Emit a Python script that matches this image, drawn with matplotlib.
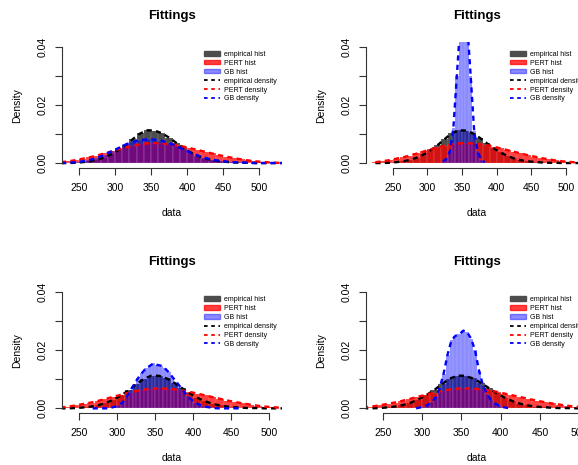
import numpy as np
import matplotlib
matplotlib.use("Agg")
import matplotlib.pyplot as plt
from matplotlib.patches import Patch
from matplotlib.lines import Line2D

plt.rcParams['font.family'] = ['Liberation Sans', 'DejaVu Sans']

# histogram densities, 10-unit bins starting at 220 (empirical and PERT same in all panels)
bins10 = np.arange(220, 540, 10)
emp = [0.0000, 0.0000, 0.0001, 0.0003, 0.0006, 0.0011, 0.0019, 0.0030,
       0.0045, 0.0062, 0.0083, 0.0102, 0.0113, 0.0112, 0.0103, 0.0088,
       0.0070, 0.0052, 0.0037, 0.0025, 0.0016, 0.0010, 0.0006, 0.0004,
       0.0002, 0.0001, 0.0001, 0.0000, 0.0000, 0.0000, 0.0000, 0.0000]
pert = [0.0003, 0.0006, 0.0010, 0.0015, 0.0020, 0.0026, 0.0033, 0.0040,
        0.0047, 0.0054, 0.0060, 0.0065, 0.0068, 0.0069, 0.0068, 0.0066,
        0.0062, 0.0057, 0.0051, 0.0045, 0.0039, 0.0033, 0.0027, 0.0022,
        0.0017, 0.0013, 0.0009, 0.0006, 0.0004, 0.0002, 0.0001, 0.0000]
gb1 = [0.0000, 0.0001, 0.0003, 0.0006, 0.0011, 0.0018, 0.0028, 0.0040,
       0.0052, 0.0064, 0.0073, 0.0079, 0.0082, 0.0081, 0.0077, 0.0069,
       0.0059, 0.0047, 0.0036, 0.0026, 0.0018, 0.0012, 0.0008, 0.0005,
       0.0003, 0.0002, 0.0001, 0.0000, 0.0000, 0.0000, 0.0000, 0.0000]

# GB fits of the other panels, 5-unit bins
gb2_start = 320
gb2 = [0.0005, 0.0015, 0.0040, 0.0120, 0.0300, 0.0480, 0.0550, 0.0480,
       0.0300, 0.0110, 0.0040, 0.0012, 0.0003]
gb3_start = 265
gb3 = [0.0, 0.0, 0.0, 0.0, 0.0,
       0.0003, 0.0006, 0.0012, 0.0022, 0.0040, 0.0062, 0.0085, 0.0105,
       0.0122, 0.0138, 0.0146, 0.0155, 0.0150, 0.0147, 0.0138, 0.0125,
       0.0108, 0.0092, 0.0075, 0.0058, 0.0042, 0.0030, 0.0020, 0.0013,
       0.0008, 0.0005, 0.0003, 0.0001,
       0.0, 0.0, 0.0, 0.0, 0.0, 0.0, 0.0]
gb4_start = 290
gb4 = [0.0, 0.0003, 0.0006, 0.0012, 0.0022, 0.0038, 0.0070, 0.0120,
       0.0185, 0.0235, 0.0250, 0.0255, 0.0268, 0.0262, 0.0240, 0.0200,
       0.0130, 0.0080, 0.0050, 0.0030, 0.0018, 0.0010, 0.0005, 0.0002,
       0.0]

labels = ['empirical hist', 'PERT hist', 'GB hist',
          'empirical density', 'PERT density', 'GB density']

c_emp = (0.3, 0.3, 0.3, 1.0)
c_pert = (1.0, 0.0, 0.0, 0.75)
c_gb = (0.0, 0.0, 1.0, 0.45)
W, H = 578, 465

fig = plt.figure(figsize=(5.78, 4.65), dpi=100)


def panel(left, top, width, xlim, gb_x, gb_vals, gb_w):
    ax = fig.add_axes([left / W, 1 - (top + 125.3) / H, width / W, 125.3 / H])
    ax.bar(bins10, emp, width=10, align='edge', color=c_emp,
           edgecolor=(1, 1, 1, 0.25), linewidth=0.3)
    ax.bar(bins10, pert, width=10, align='edge', color=c_pert,
           edgecolor=(1, 1, 1, 0.25), linewidth=0.3)
    ax.bar(gb_x, gb_vals, width=gb_w, align='edge', color=c_gb,
           edgecolor=(1, 1, 1, 0.25), linewidth=0.3)
    ls = (0, (2.2, 1.8))
    ax.plot(bins10 + 5, emp, color='black', lw=1.7, ls=ls)
    ax.plot(bins10 + 5, pert, color='red', lw=1.7, ls=ls)
    ax.plot(np.asarray(gb_x) + gb_w / 2, gb_vals, color='blue', lw=1.7, ls=ls)

    ax.set_xlim(*xlim)
    ax.set_ylim(-0.0016, 0.0416)
    for s in ['top', 'right']:
        ax.spines[s].set_visible(False)
    ax.spines['left'].set_bounds(0, 0.04)
    ax.spines['bottom'].set_bounds(250, 500)
    for s in ['left', 'bottom']:
        ax.spines[s].set_linewidth(0.8)
        ax.spines[s].set_color('#333333')
    ax.set_xticks([250, 300, 350, 400, 450, 500])
    ax.set_yticks([0, 0.01, 0.02, 0.03, 0.04])
    ax.set_yticklabels(['0.00', '', '0.02', '', '0.04'], rotation=90, va='center')
    ax.tick_params(axis='both', length=5, width=0.8, color='#333333', labelsize=7.5)
    ax.tick_params(axis='x', pad=6)
    ax.tick_params(axis='y', pad=5)
    ax.set_facecolor('none')

    cx = left + width / 2
    fig.text(cx / W, 1 - (top - 26) / H, 'Fittings', ha='center', va='center',
             fontsize=9.5, fontweight='bold')
    fig.text(cx / W, 1 - (top + 170.5) / H, 'data', ha='center', va='center',
             fontsize=7.5)
    fig.text((left - 45) / W, 1 - (top + 63) / H, 'Density', ha='center',
             va='center', rotation=90, fontsize=7.5)

    handles = [Patch(color=c_emp), Patch(color=c_pert), Patch(color=c_gb),
               Line2D([], [], color='black', lw=1.3, ls=(0, (2, 2))),
               Line2D([], [], color='red', lw=1.3, ls=(0, (2, 2))),
               Line2D([], [], color='blue', lw=1.3, ls=(0, (2, 2)))]
    ax.legend(handles, labels, loc='upper right', frameon=False, fontsize=5,
              bbox_to_anchor=(1.0, 1 - 3.5 / 125.3),
              handlelength=2.3, handleheight=0.6, handletextpad=0.7,
              labelspacing=0.28, borderaxespad=0.3, borderpad=0.4)
    return ax


panel(62, 42.4, 220, (226.4, 532.0), bins10, gb1, 10)
panel(366, 42.4, 222, (211.5, 531.7),
      gb2_start + 5 * np.arange(len(gb2)), gb2, 5)
panel(62, 287.7, 220, (227.2, 516.7),
      gb3_start + 5 * np.arange(len(gb3)), gb3, 5)
panel(366, 287.7, 222, (228.8, 511.1),
      gb4_start + 5 * np.arange(len(gb4)), gb4, 5)

fig.savefig('out.png', dpi=100)
